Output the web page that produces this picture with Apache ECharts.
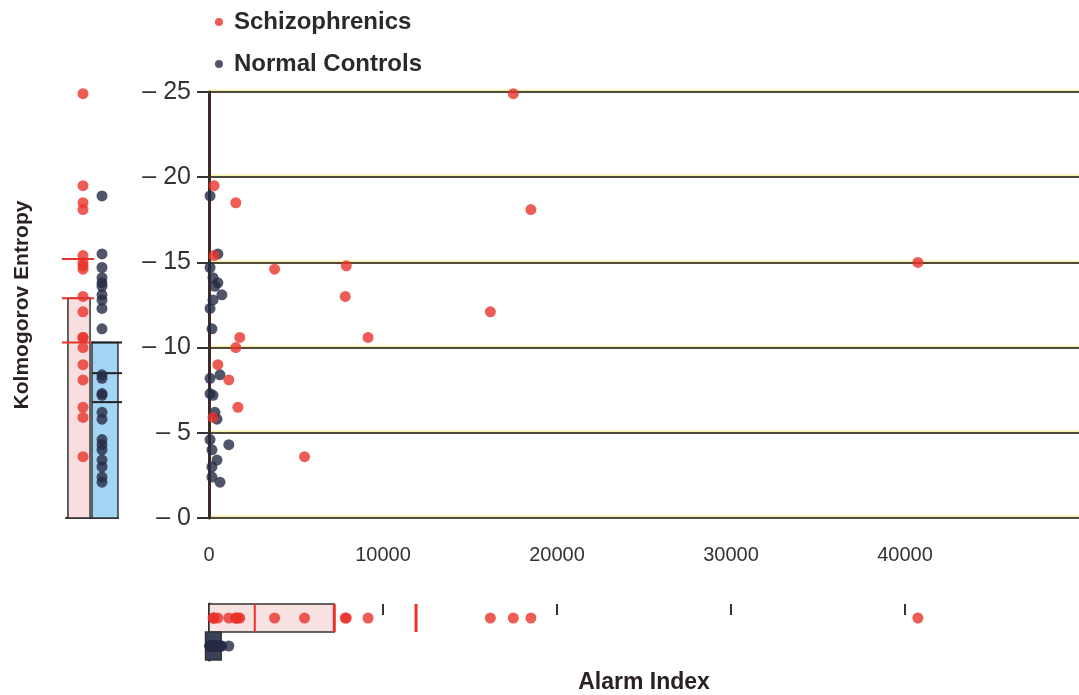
<!DOCTYPE html>
<html>
<head>
<meta charset="utf-8">
<script src="https://cdn.jsdelivr.net/npm/echarts@6/dist/echarts.min.js"></script>
<style>
html,body{margin:0;padding:0;background:#fff;}
#chart{width:1079px;height:695px;}
</style>
</head>
<body>
<div id="chart"></div>
<script>
// ---- data ----
const groups = ['Schizophrenics', 'Normal Controls'];
const schizAlarm   = [17490, 290, 1540, 18500, 290, 40740, 3770, 7890, 7830, 16170, 1770, 9140, 1540, 510, 1140, 1660, 230, 5490];
const schizEntropy = [24.9, 19.5, 18.5, 18.1, 15.4, 15.0, 14.6, 14.8, 13.0, 12.1, 10.6, 10.6, 10.0, 9.0, 8.1, 6.5, 5.9, 3.6];
const controlAlarm   = [60, 510, 60, 230, 510, 340, 740, 230, 60, 170, 60, 630, 60, 230, 340, 460, 60, 1140, 170, 460, 170, 170, 630];
const controlEntropy = [18.9, 15.5, 14.7, 14.1, 13.8, 13.6, 13.1, 12.8, 12.3, 11.1, 8.2, 8.4, 7.3, 7.2, 6.2, 5.8, 4.6, 4.3, 4.0, 3.4, 3.0, 2.4, 2.1];
// tick values of the Alarm Index strip
const alarmStripTicks = [10000, 20000, 30000, 40000];
// marginal boxes (Kolmogorov Entropy, left strip)
const entropyBoxLow  = [0, 0];
const entropyBoxHigh = [12.9, 10.3];
const entropyMarks   = [[15.2, 12.9, 10.3], [10.3, 8.5, 6.8]];
// marginal boxes (Alarm Index, bottom strip)
const alarmBoxLow  = [0, -200];
const alarmBoxHigh = [7200, 700];
const alarmMedian  = [2630, null];
const alarmMarks   = [[7200, 11900], []];

const RED = '#e8332b', NAVY = '#262b45';
const boxFills = ['#f8dede', '#a3d5f4'];
const markColors = [RED, '#222'];
const FONT = '"Liberation Sans", Arial, sans-serif';

const pairs = (xs, ys) => xs.map((x, i) => [x, ys[i]]);

const chart = echarts.init(document.getElementById('chart'), null, {renderer: 'canvas'});

const gridColor = '#4f4a3a';

const option = {
  backgroundColor: '#fff',
  animation: false,
  legend: {
    orient: 'vertical', left: 210, top: 4, itemGap: 16,
    icon: 'circle', itemWidth: 8, itemHeight: 8,
    data: groups,
    textStyle: {fontFamily: FONT, fontSize: 24, fontWeight: 'bold', color: '#2a2a2a', lineHeight: 26, padding: [0, 0, 0, 6]}
  },
  grid: [
    {left: 209, top: 92, width: 870, height: 426},
    {left: 66, top: 92, width: 52, height: 426},
    {left: 209, top: 604, width: 870, height: 58}
  ],
  xAxis: [
    { // main
      gridIndex: 0, type: 'value', min: 0, max: 50000, interval: 10000,
      axisLine: {show: false}, axisTick: {show: false}, splitLine: {show: false},
      axisLabel: {margin: 27, fontFamily: FONT, fontSize: 20, color: '#333', showMaxLabel: false, formatter: v => String(v)}
    },
    { // left strip
      gridIndex: 1, type: 'category', data: groups, boundaryGap: true,
      axisLine: {show: true, lineStyle: {color: '#333', width: 2}},
      axisTick: {show: false}, axisLabel: {show: false}
    },
    { // bottom strip ticks
      gridIndex: 2, type: 'value', min: 0, max: 50000, interval: 10000, position: 'top',
      axisLine: {show: false},
      axisTick: {show: true, inside: true, length: 11, customValues: alarmStripTicks, lineStyle: {color: '#333', width: 2}},
      axisLabel: {show: false}, splitLine: {show: false}
    },
    { // bottom strip data axis + name
      gridIndex: 2, type: 'value', min: 0, max: 50000, position: 'bottom',
      axisLine: {show: false}, axisTick: {show: false}, axisLabel: {show: false}, splitLine: {show: false},
      name: 'Alarm Index', nameLocation: 'middle', nameGap: 11,
      nameTextStyle: {fontFamily: FONT, fontSize: 23, fontWeight: 'bold', color: '#2a2222'}
    }
  ],
  yAxis: [
    { // main
      gridIndex: 0, type: 'value', min: 0, max: 25, interval: 5,
      axisLine: {show: true, lineStyle: {color: '#3d2b28', width: 3}},
      axisTick: {show: true, length: 12, lineStyle: {color: '#333', width: 2}},
      axisLabel: {margin: 18, fontFamily: FONT, fontSize: 25, color: '#333', formatter: v => '– ' + v},
      splitLine: {show: true, lineStyle: {color: gridColor, width: 2, shadowColor: 'rgba(235,225,90,0.55)', shadowBlur: 1, shadowOffsetY: -1.5}}
    },
    { // left strip
      gridIndex: 1, type: 'value', min: 0, max: 25, interval: 5,
      axisLine: {show: false}, axisTick: {show: false}, axisLabel: {show: false}, splitLine: {show: false},
      name: 'Kolmogorov Entropy', nameLocation: 'middle', nameGap: 33,
      nameTextStyle: {fontFamily: FONT, fontSize: 21, fontWeight: 'bold', color: '#2a2222'}
    },
    { // bottom strip
      gridIndex: 2, type: 'category', data: groups, inverse: true, boundaryGap: true,
      axisLine: {show: true, lineStyle: {color: '#333', width: 3}},
      axisTick: {show: false}, axisLabel: {show: false}
    }
  ],
  series: [
    // main scatter
    {name: groups[0], type: 'scatter', xAxisIndex: 0, yAxisIndex: 0, symbolSize: 11, z: 4,
      itemStyle: {color: RED}, data: pairs(schizAlarm, schizEntropy)},
    {name: groups[1], type: 'scatter', xAxisIndex: 0, yAxisIndex: 0, symbolSize: 11, z: 3,
      itemStyle: {color: NAVY}, data: pairs(controlAlarm, controlEntropy)},
    // left strip boxes
    {type: 'custom', xAxisIndex: 1, yAxisIndex: 1, z: 1, silent: true,
      data: groups.map((g, i) => [i, entropyBoxLow[i], entropyBoxHigh[i]]),
      renderItem: function (params, api) {
        const i = params.dataIndex;
        const c = api.value(0);
        const p0 = api.coord([c, api.value(1)]);
        const p1 = api.coord([c, api.value(2)]);
        const w = api.size([1, 0])[0] * (i === 0 ? 0.85 : 1);
        const children = [{type: 'rect', shape: {x: p0[0] - w / 2, y: p1[1], width: w, height: p0[1] - p1[1]},
          style: {fill: boxFills[i], stroke: '#333', lineWidth: 1.5}}];
        entropyMarks[i].forEach(v => {
          const q = api.coord([c, v]);
          const ext = i === 0 ? [6, 4] : [0, 4];
          children.push({type: 'line', shape: {x1: q[0] - w / 2 - ext[0], y1: q[1], x2: q[0] + w / 2 + ext[1], y2: q[1]},
            style: {stroke: markColors[i], lineWidth: 2}});
        });
        return {type: 'group', children};
      }},
    // left strip dots
    {name: groups[0], type: 'scatter', xAxisIndex: 1, yAxisIndex: 1, symbolSize: 11, z: 4, symbolOffset: [4, 0],
      itemStyle: {color: RED}, data: schizEntropy.map(v => [0, v])},
    {name: groups[1], type: 'scatter', xAxisIndex: 1, yAxisIndex: 1, symbolSize: 11, z: 4, symbolOffset: [-3, 0],
      itemStyle: {color: NAVY}, data: controlEntropy.map(v => [1, v])},
    // bottom strip boxes
    {type: 'custom', xAxisIndex: 3, yAxisIndex: 2, z: 1, silent: true,
      data: groups.map((g, i) => [alarmBoxLow[i], i, alarmBoxHigh[i]]),
      renderItem: function (params, api) {
        const i = params.dataIndex;
        const c = api.value(1);
        const p0 = api.coord([api.value(0), c]);
        const p1 = api.coord([api.value(2), c]);
        const h = api.size([0, 1])[1];
        const fill = i === 0 ? '#f9e2e2' : '#3b4157';
        const children = [{type: 'rect', shape: {x: p0[0], y: p0[1] - h / 2, width: p1[0] - p0[0], height: h},
          style: {fill: fill, stroke: '#333', lineWidth: 1.5}}];
        if (alarmMedian[i] != null) {
          const m = api.coord([alarmMedian[i], c]);
          children.push({type: 'line', shape: {x1: m[0], y1: m[1] - h / 2, x2: m[0], y2: m[1] + h / 2},
            style: {stroke: RED, lineWidth: 2}});
        }
        alarmMarks[i].forEach(v => {
          const q = api.coord([v, c]);
          children.push({type: 'line', shape: {x1: q[0], y1: q[1] - h / 2, x2: q[0], y2: q[1] + h / 2},
            style: {stroke: RED, lineWidth: 3}});
        });
        return {type: 'group', children};
      }},
    // bottom strip dots
    {name: groups[0], type: 'scatter', xAxisIndex: 3, yAxisIndex: 2, symbolSize: 11, z: 4,
      itemStyle: {color: RED}, data: schizAlarm.map(v => [v, 0])},
    {name: groups[1], type: 'scatter', xAxisIndex: 3, yAxisIndex: 2, symbolSize: 11, z: 4,
      itemStyle: {color: NAVY}, data: controlAlarm.map(v => [v, 1])}
  ]
};
chart.setOption(option);
</script>
</body>
</html>
